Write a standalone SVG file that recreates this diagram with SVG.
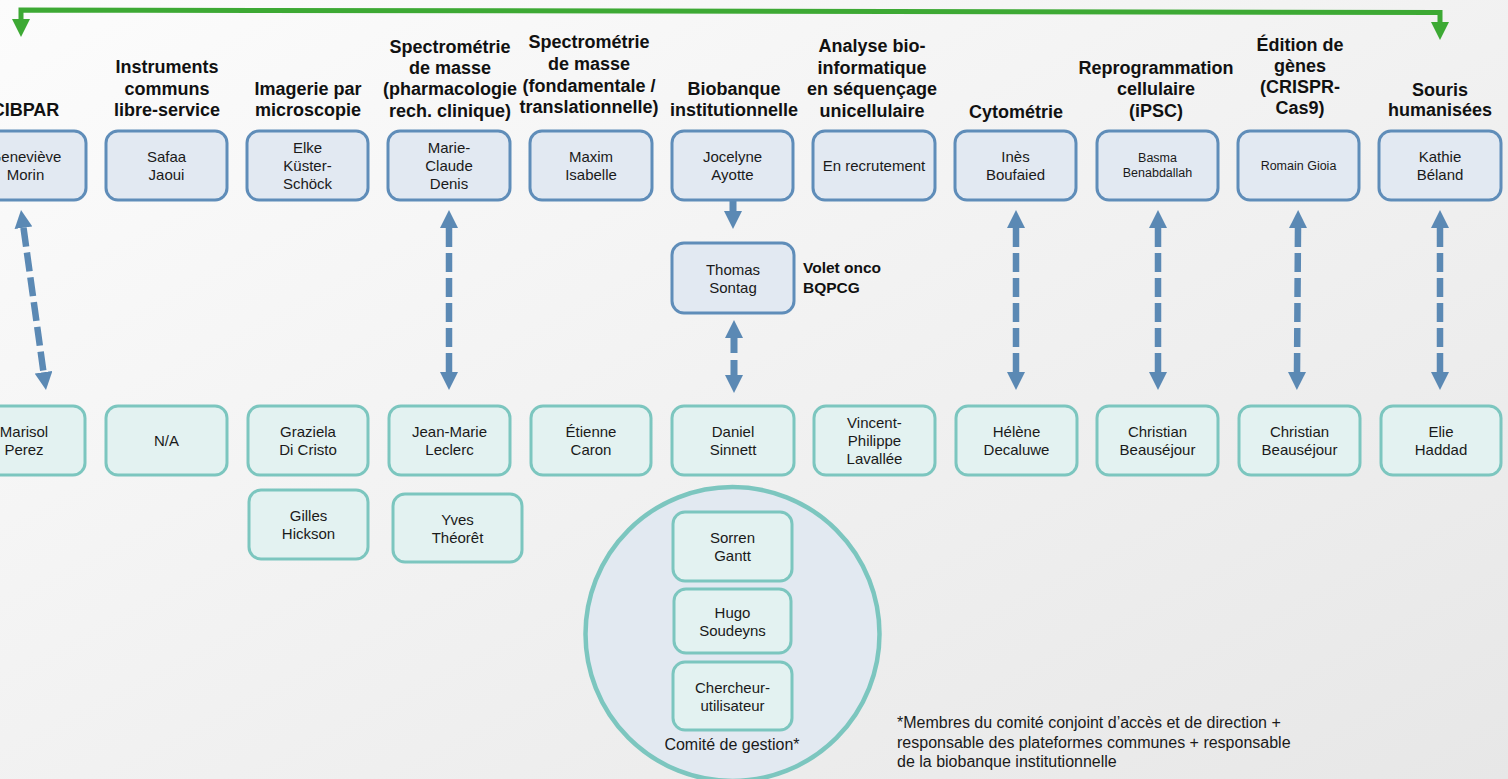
<svg xmlns="http://www.w3.org/2000/svg" width="1508" height="779" viewBox="0 0 1508 779">
<defs>
<linearGradient id="bg" x1="0" y1="0" x2="1" y2="1">
<stop offset="0" stop-color="#FCFCFC"/>
<stop offset="1" stop-color="#E7E7E7"/>
</linearGradient>
<marker id="ah" viewBox="0 0 18 18" refX="0" refY="9" markerWidth="18" markerHeight="18" markerUnits="userSpaceOnUse" orient="auto-start-reverse">
<path d="M0,0 L18,9 L0,18 z" fill="#5B89B4"/>
</marker>
<marker id="gh" viewBox="0 0 18 18" refX="0" refY="9" markerWidth="18" markerHeight="19" markerUnits="userSpaceOnUse" orient="auto-start-reverse">
<path d="M0,0 L18,9 L0,18 z" fill="#3DA934"/>
</marker>
<style>
.hd{font-family:"Liberation Sans",Arial,sans-serif;font-weight:bold;font-size:18px;fill:#111;text-anchor:middle}
.tx{font-family:"Liberation Sans",Arial,sans-serif;font-size:15px;fill:#1a1a1a;text-anchor:middle}
.sm{font-family:"Liberation Sans",Arial,sans-serif;font-size:12.5px;fill:#1a1a1a;text-anchor:middle}
.top{fill:#E2E9F2;stroke:#5F8DB9;stroke-width:3}
.bot{fill:#E3F2F1;stroke:#7CC6BF;stroke-width:3}
.da{stroke:#5B89B4;stroke-width:6.5;fill:none;stroke-dasharray:19 6;marker-start:url(#ah);marker-end:url(#ah)}
</style>
</defs>
<rect x="0" y="0" width="1508" height="779" fill="url(#bg)"/>

<g id="headers">
<text class="hd" x="25.5" y="116">CIBPAR</text>
<text class="hd" x="167"><tspan x="167" y="73">Instruments</tspan><tspan x="167" y="95">communs</tspan><tspan x="167" y="116">libre-service</tspan></text>
<text class="hd" x="308"><tspan x="308" y="95">Imagerie par</tspan><tspan x="308" y="116">microscopie</tspan></text>
<text class="hd" x="450"><tspan x="450" y="53">Spectrométrie</tspan><tspan x="450" y="74">de masse</tspan><tspan x="450" y="95">(pharmacologie</tspan><tspan x="450" y="117">rech. clinique)</tspan></text>
<text class="hd" x="589"><tspan x="589" y="48">Spectrométrie</tspan><tspan x="589" y="70">de masse</tspan><tspan x="589" y="92">(fondamentale /</tspan><tspan x="589" y="113">translationnelle)</tspan></text>
<text class="hd" x="734"><tspan x="734" y="95">Biobanque</tspan><tspan x="734" y="116">institutionnelle</tspan></text>
<text class="hd" x="872"><tspan x="872" y="52">Analyse bio-</tspan><tspan x="872" y="74">informatique</tspan><tspan x="872" y="95">en séquençage</tspan><tspan x="872" y="117">unicellulaire</tspan></text>
<text class="hd" x="1016" y="118">Cytométrie</text>
<text class="hd" x="1156"><tspan x="1156" y="74">Reprogrammation</tspan><tspan x="1156" y="95">cellulaire</tspan><tspan x="1156" y="117">(iPSC)</tspan></text>
<text class="hd" x="1300"><tspan x="1300" y="51">Édition de</tspan><tspan x="1300" y="72">gènes</tspan><tspan x="1300" y="93">(CRISPR-</tspan><tspan x="1300" y="114">Cas9)</tspan></text>
<text class="hd" x="1440"><tspan x="1440" y="96">Souris</tspan><tspan x="1440" y="116">humanisées</tspan></text>
<text class="hd" x="803" y="273" style="text-anchor:start;font-size:15.5px">Volet onco</text>
<text class="hd" x="803" y="293" style="text-anchor:start;font-size:15.5px">BQPCG</text>
</g>

<g id="connectors">
<path d="M21,19 L21,10 L1440,12.5 L1440,22" fill="none" stroke="#3DA934" stroke-width="5" stroke-linejoin="miter" marker-start="url(#gh)" marker-end="url(#gh)"/>
<line class="da" x1="23.5" y1="227.8" x2="43.5" y2="372.2"/>
<line class="da" x1="449" y1="228" x2="449" y2="372"/>
<line class="da" x1="1016" y1="228" x2="1016" y2="372"/>
<line class="da" x1="1158" y1="228" x2="1158" y2="372"/>
<line class="da" x1="1298" y1="228" x2="1297" y2="372"/>
<line class="da" x1="1440" y1="228" x2="1440" y2="372"/>
<line x1="733" y1="200" x2="733" y2="211" stroke="#5B89B4" stroke-width="7" marker-end="url(#ah)"/>
<line x1="734" y1="338" x2="734" y2="375" stroke="#5B89B4" stroke-width="7" stroke-dasharray="15 7 15" marker-start="url(#ah)" marker-end="url(#ah)"/>
</g>

<g id="n-genevieve"><rect class="top" x="-35" y="131" width="121" height="69" rx="12"/><text class="tx"><tspan x="25.5" y="162">Geneviève</tspan><tspan x="25.5" y="180">Morin</tspan></text></g>
<g id="n-safaa"><rect class="top" x="106" y="131" width="121" height="69" rx="12"/><text class="tx"><tspan x="166.5" y="162">Safaa</tspan><tspan x="166.5" y="180">Jaoui</tspan></text></g>
<g id="n-elke"><rect class="top" x="247" y="131" width="121" height="69" rx="12"/><text class="tx"><tspan x="307.5" y="153">Elke</tspan><tspan x="307.5" y="171">Küster-</tspan><tspan x="307.5" y="189">Schöck</tspan></text></g>
<g id="n-marieclaude"><rect class="top" x="388" y="131" width="122" height="69" rx="12"/><text class="tx"><tspan x="449" y="153">Marie-</tspan><tspan x="449" y="171">Claude</tspan><tspan x="449" y="189">Denis</tspan></text></g>
<g id="n-maxim"><rect class="top" x="530" y="131" width="122" height="69" rx="12"/><text class="tx"><tspan x="591" y="162">Maxim</tspan><tspan x="591" y="180">Isabelle</tspan></text></g>
<g id="n-jocelyne"><rect class="top" x="672" y="131" width="121" height="69" rx="12"/><text class="tx"><tspan x="732.5" y="162">Jocelyne</tspan><tspan x="732.5" y="180">Ayotte</tspan></text></g>
<g id="n-recrutement"><rect class="top" x="813" y="131" width="122" height="69" rx="12"/><text class="tx" x="874" y="171">En recrutement</text></g>
<g id="n-ines"><rect class="top" x="955" y="131" width="121" height="69" rx="12"/><text class="tx"><tspan x="1015.5" y="162">Inès</tspan><tspan x="1015.5" y="180">Boufaied</tspan></text></g>
<g id="n-basma"><rect class="top" x="1097" y="131" width="121" height="69" rx="12"/><text class="sm"><tspan x="1157.5" y="162">Basma</tspan><tspan x="1157.5" y="177">Benabdallah</tspan></text></g>
<g id="n-romain"><rect class="top" x="1238" y="131" width="121" height="69" rx="12"/><text class="sm" x="1298.5" y="170">Romain Gioia</text></g>
<g id="n-kathie"><rect class="top" x="1379" y="131" width="122" height="69" rx="12"/><text class="tx"><tspan x="1440" y="162">Kathie</tspan><tspan x="1440" y="180">Béland</tspan></text></g>

<g id="n-thomas"><rect class="top" x="672" y="243" width="122" height="70" rx="12"/><text class="tx"><tspan x="733" y="274.5">Thomas</tspan><tspan x="733" y="292.5">Sontag</tspan></text></g>

<g id="n-marisol"><rect class="bot" x="-36" y="406" width="121" height="69" rx="12"/><text class="tx"><tspan x="24" y="437">Marisol</tspan><tspan x="24" y="455">Perez</tspan></text></g>
<g id="n-na"><rect class="bot" x="106" y="406" width="121" height="69" rx="12"/><text class="tx" x="166.5" y="446">N/A</text></g>
<g id="n-graziela"><rect class="bot" x="248" y="406" width="120" height="69" rx="12"/><text class="tx"><tspan x="308" y="437">Graziela</tspan><tspan x="308" y="455">Di Cristo</tspan></text></g>
<g id="n-jeanmarie"><rect class="bot" x="389" y="406" width="121" height="69" rx="12"/><text class="tx"><tspan x="449.5" y="437">Jean-Marie</tspan><tspan x="449.5" y="455">Leclerc</tspan></text></g>
<g id="n-etienne"><rect class="bot" x="531" y="406" width="120" height="69" rx="12"/><text class="tx"><tspan x="591" y="437">Étienne</tspan><tspan x="591" y="455">Caron</tspan></text></g>
<g id="n-daniel"><rect class="bot" x="672" y="406" width="122" height="69" rx="12"/><text class="tx"><tspan x="733" y="437">Daniel</tspan><tspan x="733" y="455">Sinnett</tspan></text></g>
<g id="n-vincent"><rect class="bot" x="814" y="406" width="121" height="69" rx="12"/><text class="tx"><tspan x="874.5" y="428">Vincent-</tspan><tspan x="874.5" y="446">Philippe</tspan><tspan x="874.5" y="464">Lavallée</tspan></text></g>
<g id="n-helene"><rect class="bot" x="956" y="406" width="121" height="69" rx="12"/><text class="tx"><tspan x="1016.5" y="437">Hélène</tspan><tspan x="1016.5" y="455">Decaluwe</tspan></text></g>
<g id="n-christian1"><rect class="bot" x="1097" y="406" width="121" height="69" rx="12"/><text class="tx"><tspan x="1157.5" y="437">Christian</tspan><tspan x="1157.5" y="455">Beauséjour</tspan></text></g>
<g id="n-christian2"><rect class="bot" x="1239" y="406" width="121" height="69" rx="12"/><text class="tx"><tspan x="1299.5" y="437">Christian</tspan><tspan x="1299.5" y="455">Beauséjour</tspan></text></g>
<g id="n-elie"><rect class="bot" x="1381" y="406" width="120" height="69" rx="12"/><text class="tx"><tspan x="1441" y="437">Elie</tspan><tspan x="1441" y="455">Haddad</tspan></text></g>

<g id="n-gilles"><rect class="bot" x="249" y="490" width="119" height="69" rx="12"/><text class="tx"><tspan x="308.5" y="521">Gilles</tspan><tspan x="308.5" y="539">Hickson</tspan></text></g>
<g id="n-yves"><rect class="bot" x="393" y="494" width="129" height="68" rx="12"/><text class="tx"><tspan x="457.5" y="524.5">Yves</tspan><tspan x="457.5" y="542.5">Théorêt</tspan></text></g>

<g id="n-comite">
<circle cx="732.5" cy="634" r="147" fill="#E2E9F1" stroke="#7CC6BF" stroke-width="4.5"/>
<rect class="bot" x="673" y="512" width="119" height="69" rx="12"/><text class="tx"><tspan x="732.5" y="543">Sorren</tspan><tspan x="732.5" y="561">Gantt</tspan></text>
<rect class="bot" x="674" y="589" width="117" height="64" rx="12"/><text class="tx"><tspan x="732.5" y="617.5">Hugo</tspan><tspan x="732.5" y="635.5">Soudeyns</tspan></text>
<rect class="bot" x="673" y="662" width="119" height="68" rx="12"/><text class="tx"><tspan x="732.5" y="693">Chercheur-</tspan><tspan x="732.5" y="711">utilisateur</tspan></text>
<text class="tx" x="732" y="750" style="font-size:16px">Comité de gestion*</text>
</g>

<g id="footnote" font-family="Liberation Sans, Arial, sans-serif" font-size="16" fill="#1a1a1a">
<text x="897" y="728">*Membres du comité conjoint d’accès et de direction +</text>
<text x="897" y="748">responsable des plateformes communes + responsable</text>
<text x="897" y="767">de la biobanque institutionnelle</text>
</g>
</svg>
